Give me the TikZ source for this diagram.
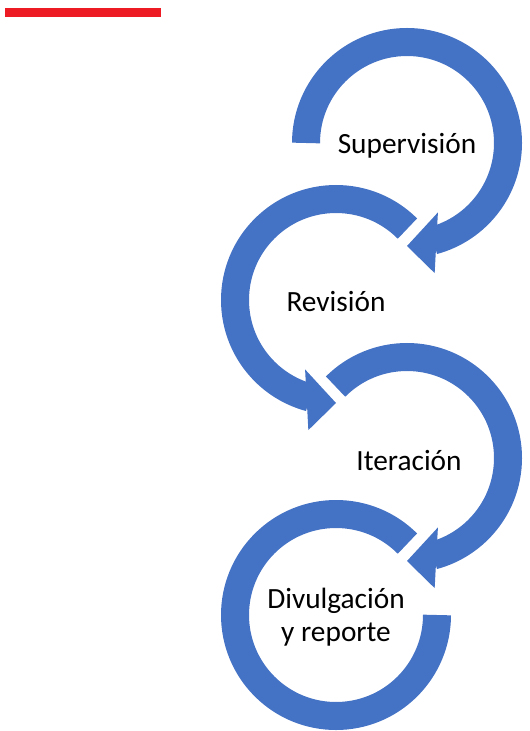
\documentclass[tikz,border=0pt]{standalone}
\usepackage{fontspec}
\setmainfont{Carlito}
\usepackage{xcolor}
\definecolor{accentblue}{HTML}{4472C4}
\definecolor{barred}{HTML}{ED1C24}

\begin{document}
\begin{tikzpicture}[x=0.75pt, y=0.75pt,
  ring/.style={draw=accentblue, line width=21pt},
  head/.style={fill=accentblue},
  steplabel/.style={font=\fontsize{22}{24.5}\selectfont, align=center}]
  \useasboundingbox (0,0) rectangle (529,-731);
  \fill[barred] (5,-8) rectangle (161,-17);

  % ring centres
  \coordinate (sup) at (407,-143);
  \coordinate (rev) at (336,-300);
  \coordinate (ite) at (407,-458);
  \coordinate (div) at (336,-615);

  \node[steplabel] (suptext) at (407,-145.5) {Supervisión};
  \node[steplabel] (revtext) at (336,-302) {Revisión};
  \node[steplabel] (itetext) at (409,-460.5) {Iteración};
  \node[steplabel] (divtext) at (336,-617) {Divulgación\\y reporte};

  % clockwise rings
  \draw[ring] (sup) ++(180:101) arc[start angle=180, end angle=-75, radius=101];
  \fill[head] ([shift={(-66:76)}]sup) -- ([shift={(-90:103)}]sup) -- ([shift={(-78:133)}]sup) -- cycle;
  \draw[ring] (ite) ++(135:101) arc[start angle=135, end angle=-75, radius=101];
  \fill[head] ([shift={(-66:76)}]ite) -- ([shift={(-90:103)}]ite) -- ([shift={(-78:133)}]ite) -- cycle;

  % counter-clockwise rings
  \draw[ring] (rev) ++(45:101) arc[start angle=45, end angle=255, radius=101];
  \fill[head] ([shift={(246:76)}]rev) -- ([shift={(270:103)}]rev) -- ([shift={(258:133)}]rev) -- cycle;
  \draw[ring] (div) ++(45:101) arc[start angle=45, end angle=360, radius=101];
\end{tikzpicture}
\end{document}
